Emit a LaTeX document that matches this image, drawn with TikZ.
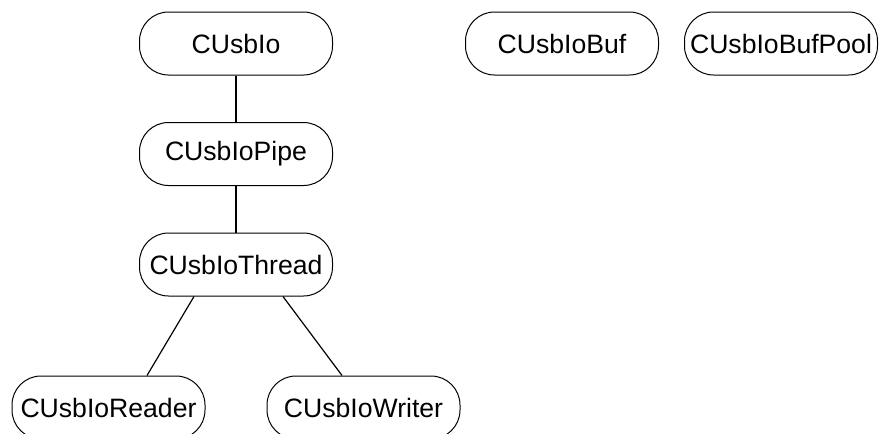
\documentclass[tikz,border=0pt]{standalone}
\usepackage{fontspec}
\setmainfont{Liberation Sans}
\usepackage{tikz}
\usetikzlibrary{positioning}
\tikzstyle{Class} = [
draw,
line width=0.5pt,
rounded corners=14.5pt,
minimum width=96.5pt,
minimum height=31.5pt,
inner xsep=1pt,
font=\fontsize{13.3}{16}\selectfont]
\tikzstyle{Link} = [line width=0.6pt]

\begin{document}
\begin{tikzpicture}[x=0.5pt, y=-0.5pt, node distance=23.25pt]
    \useasboundingbox (0,0) rectangle (879,434);
    \node [Class] at (236,43.5) (1) {CUsbIo};
    \node [Class, below =of 1] (2) {CUsbIoPipe};
    \node [Class, below =of 2] (3) {CUsbIoThread};
    \node [Class, below =39.5pt of 3, xshift=-63.75pt] (4) {CUsbIoReader};
    \node [Class, below =39.5pt of 3, xshift=63.75pt] (5) {CUsbIoWriter};
    \node [Class, right =66pt of 1] (6) {CUsbIoBuf};
    \node [Class, right =12.5pt of 6] (7) {CUsbIoBufPool};
    \draw[Link] (1.south) -- (2.north);
    \draw[Link] (2.south) -- (3.north);
    \draw[Link] ([xshift=-21pt]3.south) -- ([xshift=19.25pt]4.north);
    \draw[Link] ([xshift=23.5pt]3.south) -- ([xshift=-10.75pt]5.north);
\end{tikzpicture}
\end{document}
